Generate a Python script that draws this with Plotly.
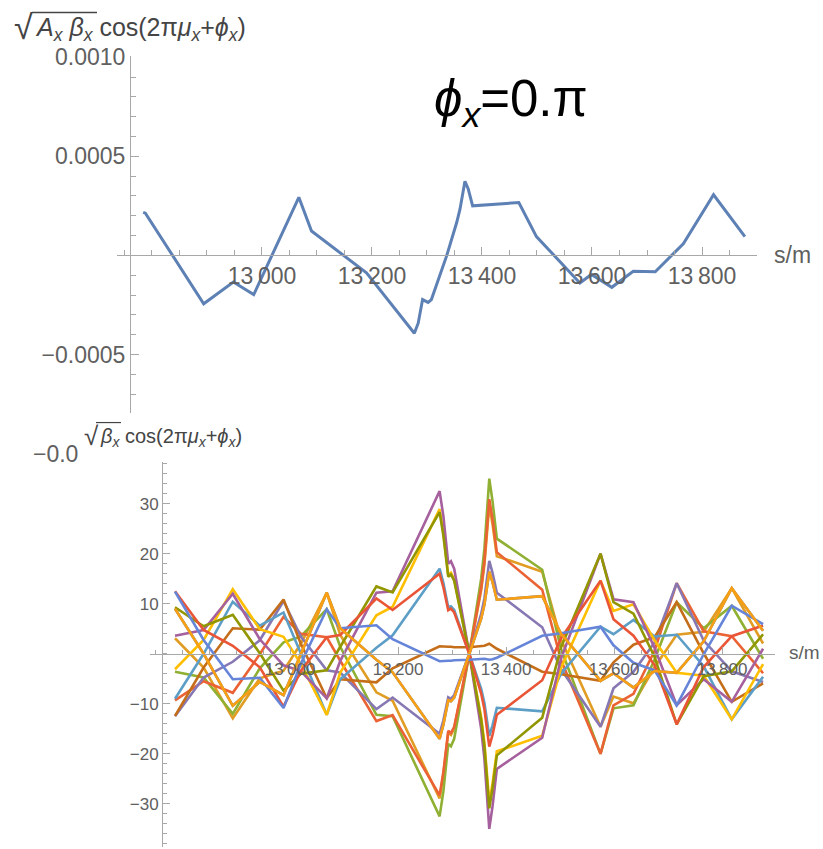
import plotly.graph_objects as go

W, H = 823, 849

# ---------------- data: top panel (single orbit, phi_x = 0) ----------------
top_s = [12784, 12788, 12894, 12948, 12985, 13067, 13090, 13190, 13277, 13284, 13292, 13302,
         13308, 13336, 13354, 13360, 13369, 13375, 13383, 13467, 13499, 13578, 13599,
         13636, 13675, 13715, 13766, 13821, 13878]
top_val = [0.000217, 0.000213, -0.000244, -0.000134, -0.000198, 0.000293, 0.000123, -0.000088,
           -0.000393, -0.000342, -0.000223, -0.000237, -0.000223, 0.0, 0.000166, 0.000233,
           0.000374, 0.000335, 0.00025, 0.000267, 0.000095, -0.000139, -0.000096,
           -0.000161, -0.00008, -0.000083, 0.000059, 0.000306, 0.000095]

# ---------------- data: bottom panel (13 phases) ----------------
bottom_s = [12787, 12840, 12894, 12944, 12988, 13020, 13068, 13093, 13160, 13190, 13277,
            13284, 13293, 13298, 13304, 13332, 13354, 13360, 13369, 13375, 13383, 13467,
            13502, 13575, 13599, 13636, 13675, 13716, 13766, 13818, 13876]

phase_0 = [9.0, 0.0, -10.4, -5.6, -8.25, 0.0, 12.2, 5.1, -1.2, -3.7, -17.0, -14.2, -9.3, -9.5,
           -8.75, 0.0, 7.0, 9.85, 16.4, 14.3, 10.8, 11.5, 4.0, -5.4, -3.9, -6.75, -3.45, -3.8,
           2.5, 13.1, 4.6]
phase_1 = [3.1, -2.75, -12.9, -4.9, -3.4, 2.0, 12.2, 3.75, -7.7, -9.4, -28.9, -24.1, -15.75,
           -16.2, -14.9, 0.0, 12.7, 17.8, 29.7, 25.9, 19.5, 16.4, 2.8, -14.6, -8.55, -9.9, -2.7,
           3.8, 4.4, 13.1, 2.05]
phase_2 = [-3.6, -4.75, -12.0, -2.9, 2.3, 3.45, 8.9, 1.4, -12.2, -12.5, -32.5, -27.5, -18.0,
           -18.5, -17.0, 0.0, 15.0, 21.0, 35.0, 30.5, 23.0, 16.8, 0.9, -20.0, -10.9, -10.3, -1.2,
           10.3, 5.1, 9.6, -1.0]
phase_3 = [-9.3, -5.5, -7.8, -0.1, 7.4, 4.0, 3.3, -1.4, -13.45, -12.25, -28.3, -23.6, -15.4,
           -15.85, -14.6, 0.0, 13.2, 18.5, 30.9, 26.9, 20.3, 12.8, -1.3, -20.0, -10.3, -8.0, 0.6,
           14.1, 4.5, 3.5, -3.9]
phase_4 = [-12.5, -4.75, -1.6, 2.7, 10.55, 3.45, -3.3, -3.75, -11.05, -8.75, -16.0, -13.3, -8.7,
           -9.0, -8.25, 0.0, 7.95, 11.1, 18.55, 16.2, 12.2, 5.3, -3.1, -14.6, -6.9, -3.6, 2.25,
           14.1, 2.65, -3.5, -5.65]
phase_5 = [-12.4, -2.75, 5.1, 4.8, 10.85, 2.0, -8.9, -5.1, -5.7, -2.9, 1.5, 1.4, 1.4, 1.4, 1.3,
           1.3, 1.5, 1.6, 2.0, 1.5, 1.0, -3.6, -4.1, -5.4, -1.7, 1.8, 3.3, 10.3, 0.1, -9.6, -5.9]
phase_6 = [-9.0, 0.0, 10.4, 5.6, 8.25, 0.0, -12.2, -5.1, 1.2, 3.7, 17.0, 14.2, 9.3, 9.5, 8.75,
           0.0, -7.0, -9.85, -16.4, -14.3, -10.8, -11.5, -4.0, 5.4, 3.9, 6.75, 3.45, 3.8, -2.5,
           -13.1, -4.6]
phase_7 = [-3.1, 2.75, 12.9, 4.9, 3.4, -2.0, -12.2, -3.75, 7.7, 9.4, 28.9, 24.1, 15.75, 16.2,
           14.9, 0.0, -12.7, -17.8, -29.7, -25.9, -19.5, -16.4, -2.8, 14.6, 8.55, 9.9, 2.7, -3.8,
           -4.4, -13.1, -2.05]
phase_8 = [3.6, 4.75, 12.0, 2.9, -2.3, -3.45, -8.9, -1.4, 12.2, 12.5, 32.5, 27.5, 18.0, 18.5,
           17.0, 0.0, -15.0, -21.0, -35.0, -30.5, -23.0, -16.8, -0.9, 20.0, 10.9, 10.3, 1.2,
           -10.3, -5.1, -9.6, 1.0]
phase_9 = [9.3, 5.5, 7.8, 0.1, -7.4, -4.0, -3.3, 1.4, 13.45, 12.25, 28.3, 23.6, 15.4, 15.85,
           14.6, 0.0, -13.2, -18.5, -30.9, -26.9, -20.3, -12.8, 1.3, 20.0, 10.3, 8.0, -0.6, -14.1,
           -4.5, -3.5, 3.9]
phase_10 = [12.5, 4.75, 1.6, -2.7, -10.55, -3.45, 3.3, 3.75, 11.05, 8.75, 16.0, 13.3, 8.7, 9.0,
            8.25, 0.0, -7.95, -11.1, -18.55, -16.2, -12.2, -5.3, 3.1, 14.6, 6.9, 3.6, -2.25,
            -14.1, -2.65, 3.5, 5.65]
phase_11 = [12.4, 2.75, -5.1, -4.8, -10.85, -2.0, 8.9, 5.1, 5.7, 2.9, -1.5, -1.4, -1.4, -1.4,
            -1.3, -1.2, -1.0, -1.0, -1.2, -1.1, -0.8, 3.6, 4.1, 5.4, 1.7, -1.8, -3.3, -10.3, -0.1,
            9.6, 5.9]
phase_12 = list(phase_0)  # phi = 2*pi coincides with phi = 0

x_tick_vals = [13000, 13200, 13400, 13600, 13800]
x_tick_text = ["13\u2009000", "13\u2009200", "13\u2009400", "13\u2009600", "13\u2009800"]
top_y_tick_vals = [0.001, 0.0005, -0.0005]
top_y_tick_text = ["0.0010", "0.0005", "\u22120.0005"]
bot_y_tick_vals = [-30, -20, -10, 10, 20, 30]
bot_y_tick_text = ["\u221230", "\u221220", "\u221210", "10", "20", "30"]

colors = ["#5E81B5", "#E19C24", "#8FB032", "#EB6235", "#8778B3", "#C56E1A", "#5D9EC7",
          "#FFBF00", "#A5609D", "#929600", "#E95536", "#6685D9", "#F89F13"]
phases = [phase_0, phase_1, phase_2, phase_3, phase_4, phase_5, phase_6, phase_7, phase_8,
          phase_9, phase_10, phase_11, phase_12]

# ---------------- layout geometry ----------------
# The captured page shows a small vertical offset/scale; target pixel rows are mapped back.
OFF, SC = 12.8, 0.985

def fx(p):
    return p / W

def fy(p):
    t = (p - OFF) / SC
    t = max(t, 0.5)
    return 1 - t / H

def frac(v, r, d):
    return d[0] + (v - r[0]) / (r[1] - r[0]) * (d[1] - d[0])

xr1, xd1 = [12736.4, 13900.0], [fx(117), fx(757)]
yr1, yd1 = [-0.000793, 0.001005], [fy(413), fy(57)]
xr2, xd2 = [12740.7, 13898.1], [fx(150), fx(775)]
yr2, yd2 = [-38.6, 38.4], [fy(847), fy(462)]

FONT = "Liberation Sans, Arial, sans-serif"
LBL = "#606060"
AX = "#a8a8a8"

fig = go.Figure()
fig.add_trace(go.Scatter(x=top_s, y=top_val, mode="lines", xaxis="x", yaxis="y",
                         line=dict(color="#5E81B5", width=3), showlegend=False,
                         hoverinfo="skip"))
for vals, col in zip(phases, colors):
    fig.add_trace(go.Scatter(x=bottom_s, y=vals, mode="lines", xaxis="x2", yaxis="y2",
                             line=dict(color=col, width=2.6), showlegend=False,
                             hoverinfo="skip"))

common_axis = dict(showgrid=False, zeroline=False, showline=True, linecolor=AX, linewidth=1,
                   ticks="inside", tickcolor=AX, tickwidth=1, anchor="free")

fig.update_layout(
    width=W, height=H, margin=dict(l=0, r=0, t=0, b=0),
    paper_bgcolor="white", plot_bgcolor="rgba(0,0,0,0)",
    font=dict(family=FONT, color=LBL),
    xaxis=dict(common_axis, domain=xd1, range=xr1, position=frac(0, yr1, yd1),
               tickmode="array", tickvals=x_tick_vals, ticktext=x_tick_text, ticklen=8,
               tickfont=dict(size=23, color=LBL),
               minor=dict(tickmode="linear", tick0=12750, dtick=50, ticks="inside",
                          ticklen=5, tickcolor=AX)),
    yaxis=dict(common_axis, domain=yd1, range=yr1, position=frac(12760, xr1, xd1),
               tickmode="array", tickvals=top_y_tick_vals, ticktext=top_y_tick_text,
               ticklen=8, tickfont=dict(size=23, color=LBL),
               minor=dict(tickmode="linear", tick0=0, dtick=0.0001, ticks="inside",
                          ticklen=5, tickcolor=AX)),
    xaxis2=dict(common_axis, domain=xd2, range=xr2, position=frac(0, yr2, yd2),
                tickmode="array", tickvals=x_tick_vals, ticktext=x_tick_text, ticklen=7,
                tickfont=dict(size=17, color=LBL),
                minor=dict(tickmode="linear", tick0=12750, dtick=50, ticks="inside",
                           ticklen=4, tickcolor=AX)),
    yaxis2=dict(common_axis, domain=yd2, range=yr2, position=frac(12763, xr2, xd2),
                tickmode="array", tickvals=bot_y_tick_vals, ticktext=bot_y_tick_text,
                ticklen=7, tickfont=dict(size=17, color=LBL),
                minor=dict(tickmode="linear", tick0=0, dtick=2, ticks="inside",
                           ticklen=4, tickcolor=AX)),
)

TITLE = "#454545"
ann = []
# top title
ann.append(dict(x=fx(12), y=fy(28), xref="paper", yref="paper", xanchor="left", yanchor="middle",
                text="\u221a", showarrow=False, font=dict(size=34, color=TITLE, family=FONT)))
ann.append(dict(x=fx(33), y=fy(30), xref="paper", yref="paper", xanchor="left", yanchor="middle",
                text="<i>A</i><sub><i>x</i></sub> <i>\u03b2</i><sub><i>x</i></sub> cos(2\u03c0<i>\u03bc</i><sub><i>x</i></sub>+<i>\u03d5</i><sub><i>x</i></sub>)",
                showarrow=False, font=dict(size=25, color=TITLE, family=FONT)))
# bottom title
ann.append(dict(x=fx(82), y=fy(436), xref="paper", yref="paper", xanchor="left", yanchor="middle",
                text="\u221a", showarrow=False, font=dict(size=26, color=TITLE, family=FONT)))
ann.append(dict(x=fx(98), y=fy(438), xref="paper", yref="paper", xanchor="left", yanchor="middle",
                text="<i>\u03b2</i><sub><i>x</i></sub> cos(2\u03c0<i>\u03bc</i><sub><i>x</i></sub>+<i>\u03d5</i><sub><i>x</i></sub>)",
                showarrow=False, font=dict(size=20, color=TITLE, family=FONT)))
# clipped remnant of the top panel's lowest label
ann.append(dict(x=fx(80), y=fy(454), xref="paper", yref="paper", xanchor="right", yanchor="middle",
                text="\u22120.0", showarrow=False, font=dict(size=23, color=LBL, family=FONT)))
# axis unit labels
ann.append(dict(x=fx(772), y=fy(256), xref="paper", yref="paper", xanchor="left", yanchor="middle",
                text="s/m", showarrow=False, font=dict(size=23, color=LBL, family=FONT)))
ann.append(dict(x=fx(787), y=fy(653), xref="paper", yref="paper", xanchor="left", yanchor="middle",
                text="s/m", showarrow=False, font=dict(size=19, color=LBL, family=FONT)))
# phase label
ann.append(dict(x=fx(511), y=fy(103), xref="paper", yref="paper", xanchor="center", yanchor="middle",
                text="<i>\u03d5</i><sub><i>x</i></sub>=0.\u03c0", showarrow=False,
                font=dict(size=51, color="black", family=FONT)))
fig.update_layout(annotations=ann)

shapes = [
    dict(type="line", xref="paper", yref="paper", x0=fx(32), x1=fx(97), y0=fy(7), y1=fy(7),
         line=dict(color=TITLE, width=1.5)),
    dict(type="line", xref="paper", yref="paper", x0=fx(96), x1=fx(121), y0=fy(423), y1=fy(423),
         line=dict(color=TITLE, width=1.2)),
]
fig.update_layout(shapes=shapes)

fig.write_html("out.html")
